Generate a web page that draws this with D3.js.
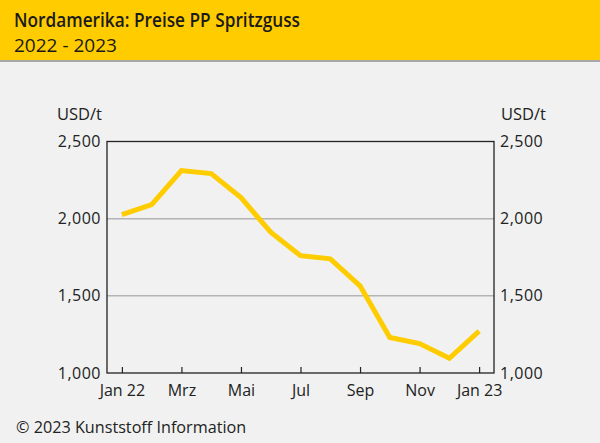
<!DOCTYPE html>
<html><head><meta charset="utf-8">
<script src="https://cdn.jsdelivr.net/npm/d3@7"></script>
<style>body{margin:0;background:#f0f1f0;}svg{display:block;}</style>
</head><body>
<script>
const months = ["Jan 22","Feb","Mrz","Apr","Mai","Jun","Jul","Aug","Sep","Okt","Nov","Dez","Jan 23"];
const tickLabels = ["Jan 22","Mrz","Mai","Jul","Sep","Nov","Jan 23"];
const prices = [2026,2091,2312,2292,2136,1912,1760,1740,1565,1230,1191,1095,1271];
const yTicks = [1000,1500,2000,2500];

const W=600,H=443;
const svg=d3.select("body").append("svg").attr("width",W).attr("height",H)
  .style("font-family","'Open Sans', sans-serif");
svg.append("rect").attr("width",W).attr("height",H).attr("fill","#f0f1f0");
svg.append("rect").attr("width",W).attr("height",60).attr("fill","#ffcc00");
svg.append("rect").attr("y",60).attr("width",W).attr("height",2).attr("fill","#a8a8a8");
svg.append("text").attr("x",14).attr("y",27).attr("font-size",19).attr("font-weight",600)
  .attr("fill","#1a1a1a").attr("textLength",286).attr("lengthAdjust","spacingAndGlyphs")
  .text("Nordamerika: Preise PP Spritzguss");
svg.append("text").attr("x",14).attr("y",52).attr("font-size",19)
  .attr("fill","#1a1a1a").text("2022 - 2023");

const L=107,R=494,T=141.5,B=373;
const x=d3.scaleLinear().domain([-0.5,months.length-0.5]).range([L,R]);
const y=d3.scaleLinear().domain([1000,2500]).range([B,T]);

// gridlines
svg.append("g").selectAll("line").data(yTicks.filter(v=>v>1000&&v<2500)).join("line")
  .attr("x1",L).attr("x2",R).attr("y1",d=>y(d)).attr("y2",d=>y(d))
  .attr("stroke","#b4b4b4").attr("stroke-width",1.5);

// frame
svg.append("rect").attr("x",L).attr("y",T).attr("width",R-L).attr("height",B-T)
  .attr("fill","none").attr("stroke","#222").attr("stroke-width",1.3);

// x ticks
const xAxis=d3.axisBottom(x).tickValues(d3.range(0,months.length,2)).tickSize(-6)
  .tickFormat(i=>months[i]).tickPadding(11.3);
const gx=svg.append("g").attr("transform",`translate(0,${B})`).call(xAxis);
gx.select(".domain").remove();
gx.selectAll(".tick line").attr("stroke","#222").attr("stroke-width",1.2);
gx.selectAll(".tick text").attr("font-size",16).attr("fill","#222")
  .attr("font-family","'Open Sans', sans-serif");

const fmt=d3.format(",");
const yl=d3.axisLeft(y).tickValues(yTicks).tickSize(0).tickPadding(6).tickFormat(fmt);
const gyl=svg.append("g").attr("transform",`translate(${L},0)`).call(yl);
gyl.select(".domain").remove();
const yr=d3.axisRight(y).tickValues(yTicks).tickSize(0).tickPadding(6).tickFormat(fmt);
const gyr=svg.append("g").attr("transform",`translate(${R},0)`).call(yr);
gyr.select(".domain").remove();
[gyl,gyr].forEach(g=>g.selectAll(".tick text").attr("font-size",16).attr("fill","#222")
  .attr("letter-spacing",0.5).attr("font-family","'Open Sans', sans-serif"));

svg.append("text").attr("x",57).attr("y",119.5).attr("font-size",16.5).attr("fill","#222").text("USD/t");
svg.append("text").attr("x",501).attr("y",119.5).attr("font-size",16.5).attr("fill","#222").text("USD/t");

// line
svg.append("path").datum(prices)
  .attr("d",d3.line().x((d,i)=>x(i)).y(d=>y(d)))
  .attr("fill","none").attr("stroke","#ffcc00").attr("stroke-width",5)
  .attr("stroke-linejoin","miter");

svg.append("text").attr("x",16).attr("y",433).attr("font-size",16.2).attr("fill","#222")
  .text("© 2023 Kunststoff Information");
</script>
</body></html>
